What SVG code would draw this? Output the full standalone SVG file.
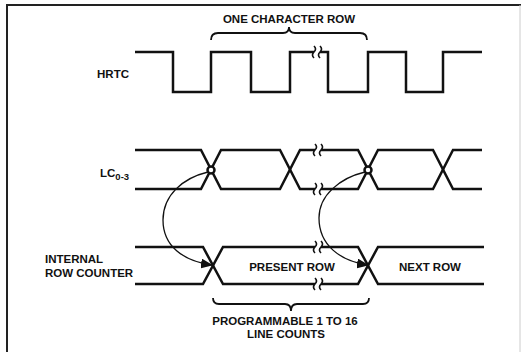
<svg xmlns="http://www.w3.org/2000/svg" width="522" height="352" viewBox="0 0 522 352">
<defs>
<style>
.w{fill:none;stroke:#111;stroke-width:2.5;stroke-linejoin:miter}
.b{fill:none;stroke:#111;stroke-width:1.8}
.brk{fill:none;stroke:#111;stroke-width:1.6}
.arc{fill:none;stroke:#111;stroke-width:1.3}
.t{font-family:"Liberation Sans",Arial,sans-serif;font-weight:bold;font-size:11.5px;fill:#111}
.f{fill:none;stroke:#222;stroke-width:2}
</style>
<marker id="ah" markerWidth="12" markerHeight="10" refX="11" refY="5" orient="auto" markerUnits="userSpaceOnUse">
<path d="M0,0 L12,5 L0,10 Z" fill="#111"/>
</marker>
</defs>
<rect width="522" height="352" fill="#fff"/>
<g id="frame">
<path class="f" d="M7,352 V5 H521"/>
<path d="M520,5 V352" stroke="#ccc" stroke-width="1" fill="none"/>
</g>
<g id="hrtc">
<text class="t" x="129" y="78" text-anchor="end">HRTC</text>
<path class="w" d="M135,52 H173 V92 H211 V52 H251 V92 H290 V52 H314"/>
<path class="w" d="M320,52 H328 V92 H368 V52 H406 V92 H443 V52 H482"/>
<path class="brk" d="M314,46 c2,2 2,4 0,6 c-2,2 -2,4 0,6 M320,46 c2,2 2,4 0,6 c-2,2 -2,4 0,6"/>
</g>
<g id="brace-top">
<path class="b" d="M211,40 Q211,33 218,33 H283 Q289,33 289,27 Q289,33 295,33 H360 Q367,33 367,40"/>
<text class="t" x="289" y="23" text-anchor="middle">ONE CHARACTER ROW</text>
</g>
<g id="lc">
<text class="t" x="100" y="177" font-size="12">LC<tspan font-size="9.5" dy="3">0-3</tspan></text>
<path class="w" d="M135,150 H201 L221,189 H280 L300,150 H315 M321,150 H358 L378,189 H433 L453,150 H482"/>
<path class="w" d="M135,189 H201 L221,150 H280 L300,189 H315 M321,189 H358 L378,150 H433 L453,189 H482"/>
<path class="brk" d="M315,144 c2,2 2,4 0,6 c-2,2 -2,4 0,6 M321,144 c2,2 2,4 0,6 c-2,2 -2,4 0,6 M315,183 c2,2 2,4 0,6 c-2,2 -2,4 0,6 M321,183 c2,2 2,4 0,6 c-2,2 -2,4 0,6"/>
<circle cx="211" cy="170" r="3.5" fill="#fff" stroke="#111" stroke-width="2.5"/>
<circle cx="368" cy="170" r="3.5" fill="#fff" stroke="#111" stroke-width="2.5"/>
</g>
<g id="row-counter">
<text class="t" x="45" y="263">INTERNAL</text>
<text class="t" x="45" y="277">ROW COUNTER</text>
<path class="w" d="M135,247 H203 L223,284 H315 M321,284 H358 L378,247 H484"/>
<path class="w" d="M135,284 H203 L223,247 H315 M321,247 H358 L378,284 H484"/>
<path class="brk" d="M315,241 c2,2 2,4 0,6 c-2,2 -2,4 0,6 M321,241 c2,2 2,4 0,6 c-2,2 -2,4 0,6 M315,278 c2,2 2,4 0,6 c-2,2 -2,4 0,6 M321,278 c2,2 2,4 0,6 c-2,2 -2,4 0,6"/>
<text class="t" x="292" y="271" text-anchor="middle">PRESENT ROW</text>
<text class="t" x="430" y="271" text-anchor="middle">NEXT ROW</text>
</g>
<g id="brace-bottom">
<path class="b" d="M213,298 Q213,304 219,304 H285 Q291,304 291,311 Q291,304 297,304 H363 Q369,304 369,298"/>
<text class="t" x="285" y="325" text-anchor="middle">PROGRAMMABLE 1 TO 16</text>
<text class="t" x="286" y="338" text-anchor="middle">LINE COUNTS</text>
</g>
<g id="connectors">
<path class="arc" marker-end="url(#ah)" d="M208,172 C183,178 163,195 163,220 C163,246 183,261 212,265"/>
<path class="arc" marker-end="url(#ah)" d="M365,172 C340,178 319,195 319,218 C319,245 340,261 368,265"/>
</g>
</svg>
